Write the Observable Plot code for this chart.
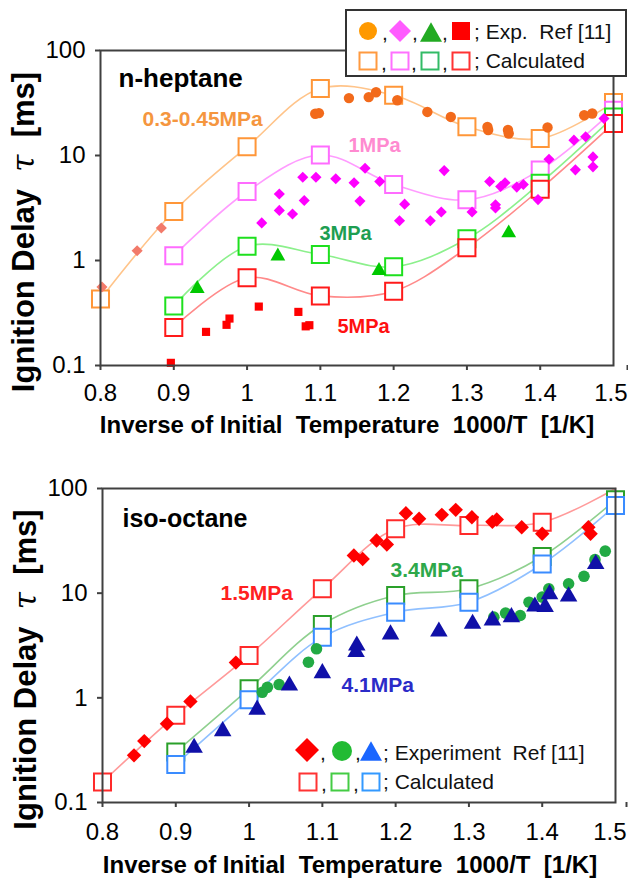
<!DOCTYPE html>
<html>
<head>
<meta charset="utf-8">
<script src="https://cdn.jsdelivr.net/npm/d3@7"></script>
<script src="https://cdn.jsdelivr.net/npm/@observablehq/plot@0.6"></script>
<style>
  body { margin: 0; background: #fff; }
  #chart { width: 628px; }
  #chart svg { display: block; }
  #chart svg text { white-space: pre; }
</style>
</head>
<body>
<div id="chart"></div>
<script>
// ---------------- DATA ----------------
const xTicks = [0.8, 0.9, 1, 1.1, 1.2, 1.3, 1.4, 1.5];
const yTicks = [0.1, 1, 10, 100];
const calcX = [0.8, 0.9, 1.0, 1.1, 1.2, 1.3, 1.4, 1.5];

// n-heptane, calculated (at calcX)
const hepCalc03 = [0.43, 2.93, 12.1, 43.4, 37.4, 18.8, 14.5, 32];
const hepCalc1  = [null, 1.11, 4.54, 10.1, 5.3, 3.79, 7.29, 27];
const hepCalc3  = [null, 0.369, 1.37, 1.14, 0.87, 1.61, 5.45, 23.3];
const hepCalc5  = [null, 0.23, 0.685, 0.46, 0.51, 1.32, 4.78, 20.2];

// n-heptane, experiment [x, tau]
const hepExp03 = [[1.093,25],[1.098,25.3],[1.139,35.2],[1.166,36],[1.176,40],[1.205,33.6],[1.246,26],
  [1.278,23.3],[1.328,18.7],[1.329,17.5],[1.356,17.5],[1.357,16.2],[1.410,18.5],[1.460,24.2],[1.471,25.1]];
const hepExpLow = [[0.802,0.56],[0.850,1.24],[0.883,2.04]];
const hepExp1 = [[1.020,2.28],[1.044,4.3],[1.044,3.0],[1.062,2.77],[1.076,6.2],[1.078,3.73],[1.094,6.2],
  [1.121,6.0],[1.146,5.5],[1.154,3.68],[1.161,7.57],[1.181,5.65],[1.208,2.39],[1.215,3.44],[1.250,2.39],
  [1.265,2.9],[1.269,7.18],[1.307,2.9],[1.331,5.65],[1.339,3.16],[1.339,3.4],[1.346,5.06],[1.352,5.5],
  [1.368,5.0],[1.377,5.3],[1.397,3.8],[1.412,9.2],[1.446,14],[1.448,7.3],[1.462,15.1],[1.472,9.7],
  [1.472,7.8],[1.487,22.5]];
const hepExp3 = [[0.932,0.54],[1.042,1.1],[1.180,0.80],[1.357,1.83]];
const hepExp5 = [[0.896,0.106],[0.944,0.209],[0.972,0.244],[0.976,0.28],[1.016,0.364],[1.070,0.324],
  [1.080,0.236],[1.085,0.242]];

// iso-octane, calculated (at calcX)
const isoCalc15 = [0.157, 0.68, 2.54, 11, 41.2, 44.3, 47.6, 100];
const isoCalc34 = [null, 0.303, 1.22, 5.02, 9.5, 11, 22.4, 78];
const isoCalc41 = [null, 0.231, 0.96, 3.8, 6.59, 8.2, 19, 68.8];

// iso-octane, experiment [x, tau]
const isoExp15 = [[0.843,0.282],[0.857,0.386],[0.888,0.565],[0.920,0.925],[0.982,2.17],[1.143,22.9],
  [1.155,21.2],[1.174,31.8],[1.188,29.2],[1.214,58],[1.232,51.4],[1.263,56],[1.282,62.5],[1.304,53.2],
  [1.332,48],[1.338,50.5],[1.372,42.6],[1.400,36.9],[1.463,42.6],[1.466,36.9]];
const isoExp34 = [[1.018,1.13],[1.025,1.26],[1.041,1.34],[1.081,2.19],[1.092,2.94],[1.334,5.9],[1.350,6.45],
  [1.370,6.12],[1.382,8.2],[1.400,9.17],[1.409,11],[1.436,12.3],[1.457,14.5],[1.472,20.9],[1.486,25.2]];
const isoExp41 = [[0.925,0.333],[0.964,0.48],[1.011,0.77],[1.055,1.31],[1.100,1.72],[1.146,2.74],
  [1.147,3.16],[1.193,4.04],[1.259,4.3],[1.305,5.1],[1.332,5.5],[1.358,5.9],[1.390,7.46],[1.404,7.4],
  [1.410,9.8],[1.436,9.3],[1.473,19]];

// text
const xTitle = "Inverse of Initial  Temperature  1000/T  [1/K]";
const yTitle = "Ignition Delay  τ  [ms]";

// ---------------- LAYOUT / STYLE ----------------
const FONT = "'Liberation Sans', Arial, Helvetica, sans-serif";
const AXIS = "#404040";

const calcRows = vals => calcX.map((x, i) => ({x, y: vals[i]})).filter(d => d.y != null);
const expRows = arr => arr.map(([x, y]) => ({x, y}));
const fmtX = d => String(+d.toFixed(1));

function label(text, dx, dy, fill, size) {
  return Plot.text([text], {frameAnchor: "top-left", dx, dy, fill, fontSize: size,
    fontWeight: "bold", textAnchor: "start", lineAnchor: "middle"});
}

function commonMarks(titleDx, titleDy, tickPad, lastDx) {
  const last = xTicks[xTicks.length - 1];
  const axOpts = {tickFormat: fmtX, tickSize: 5, tickPadding: tickPad, label: null,
    stroke: AXIS, strokeWidth: 2, fontSize: 24, fill: "#000"};
  return [
    Plot.frame({stroke: AXIS, strokeWidth: 2}),
    Plot.axisX({...axOpts, ticks: xTicks.filter(t => t !== last)}),
    Plot.axisX({...axOpts, ticks: [last], textAnchor: "end", dx: lastDx}),
    Plot.axisY({ticks: yTicks, tickFormat: d => String(d), tickSize: 5, tickPadding: 10, label: null,
      stroke: AXIS, strokeWidth: 2, fontSize: 24, fill: "#000"}),
    Plot.text([xTitle], {frameAnchor: "bottom", dx: titleDx, dy: titleDy, lineAnchor: "bottom",
      fontSize: 24, fontWeight: "bold", fill: "#000"}),
    Plot.text([yTitle], {frameAnchor: "left", dx: -76, dy: 24, rotate: -90, lineAnchor: "middle",
      textAnchor: "middle", fontSize: 31, fontWeight: "bold", fill: "#000"})
  ];
}

function calcMarks(vals, lineColor, sqColor) {
  const rows = calcRows(vals);
  return [
    Plot.line(rows, {x: "x", y: "y", stroke: lineColor, strokeWidth: 1.6, curve: "catmull-rom"}),
    Plot.dot(rows.filter(d => d.y < 99), {x: "x", y: "y", symbol: "square", r: 9.6, fill: "#fff",
      stroke: sqColor, strokeWidth: 2})
  ];
}

function expMarks(arr, symbol, color, r) {
  return Plot.dot(expRows(arr), {x: "x", y: "y", symbol, r, fill: color, stroke: "none"});
}

const styleObj = {fontFamily: FONT, fontSize: "24px", color: "#000", background: "#fff", overflow: "visible"};

// ---- top panel: n-heptane ----
const topPlot = Plot.plot({
  width: 628, height: 450,
  marginLeft: 100, marginRight: 15, marginTop: 50, marginBottom: 85,
  style: styleObj,
  x: {domain: [0.8, 1.5]},
  y: {type: "log", domain: [0.1, 100]},
  marks: [
    ...calcMarks(hepCalc03, "#ffc48a", "#ff9638"),
    ...calcMarks(hepCalc1, "#ff9cff", "#ff6cff"),
    ...calcMarks(hepCalc3, "#8cf08c", "#1ee01e"),
    ...calcMarks(hepCalc5, "#ff8a8a", "#ff1a1a"),
    expMarks(hepExpLow, "diamond2", "#f27a6a", 5),
    expMarks(hepExp03, "circle", "#f26a1b", 5.2),
    expMarks(hepExp1, "diamond2", "#ff00ff", 5),
    expMarks(hepExp3, "triangle", "#00c800", 5.5),
    expMarks(hepExp5, "square", "#ff0000", 4.6),
    ...commonMarks(-10, 67, 13, 14),
    label("n-heptane", 18, 28, "#000", 26),
    label("0.3-0.45MPa", 42, 69, "#f5963f", 21),
    label("1MPa", 248, 95, "#ff8ad0", 20),
    label("3MPa", 219, 183, "#1e9e52", 20),
    label("5MPa", 237, 276, "#ff1010", 20)
  ]
});

// ---- bottom panel: iso-octane ----
const bottomPlot = Plot.plot({
  width: 628, height: 430,
  marginLeft: 102, marginRight: 13, marginTop: 38, marginBottom: 78,
  style: styleObj,
  x: {domain: [0.8, 1.5]},
  y: {type: "log", domain: [0.1, 100]},
  marks: [
    ...calcMarks(isoCalc15, "#ff9a9a", "#ff2a2a"),
    ...calcMarks(isoCalc34, "#8fd08f", "#2aa02a"),
    ...calcMarks(isoCalc41, "#90c0ff", "#3a8cff"),
    expMarks(isoExp15, "diamond2", "#ff0000", 6.5),
    expMarks(isoExp34, "circle", "#22aa44", 5.8),
    expMarks(isoExp41, "triangle", "#1010a8", 6.5),
    ...commonMarks(-9, 70, 15, 11),
    label("iso-octane", 20, 30, "#000", 25),
    label("1.5MPa", 118, 105, "#ff2020", 21),
    label("3.4MPa", 288, 82, "#2ea84a", 21),
    label("4.1MPa", 239, 197, "#2b2bc8", 21)
  ]
});

// italic tau in the y-axis titles
[topPlot, bottomPlot].forEach(svg => {
  d3.select(svg).selectAll("text").filter(function() { return this.textContent === yTitle; })
    .each(function() {
      const parts = yTitle.split("τ");
      const t = d3.select(this).text("");
      t.append("tspan").text(parts[0]);
      t.append("tspan").attr("font-family", "'DejaVu Serif', serif").attr("font-style", "italic")
        .attr("font-weight", "normal").text("τ");
      t.append("tspan").text(parts[1]);
    });
});

// ---------------- LEGENDS (pixel layout drawn into the SVGs) ----------------
function sym(g, type, cx, cy, s, fill, stroke) {
  if (type === "circle") {
    g.append("circle").attr("cx", cx).attr("cy", cy).attr("r", s).attr("fill", fill);
  } else if (type === "diamond") {
    g.append("path").attr("d", `M${cx},${cy - s}L${cx + s},${cy}L${cx},${cy + s}L${cx - s},${cy}Z`).attr("fill", fill);
  } else if (type === "triangle") {
    const h = s * 0.88;
    g.append("path").attr("d", `M${cx},${cy - h}L${cx + s},${cy + h}L${cx - s},${cy + h}Z`).attr("fill", fill);
  } else if (type === "square") {
    g.append("rect").attr("x", cx - s).attr("y", cy - s).attr("width", 2 * s).attr("height", 2 * s)
      .attr("fill", fill).attr("stroke", stroke || "none").attr("stroke-width", stroke ? 2 : 0);
  }
}
function txt(g, x, y, t, anchor) {
  g.append("text").attr("x", x).attr("y", y).attr("font-size", 21).attr("fill", "#111")
    .attr("text-anchor", anchor || "start").style("white-space", "pre").text(t);
}

{
  const g = d3.select(topPlot).append("g").attr("font-family", FONT);
  g.append("rect").attr("x", 346).attr("y", 10).attr("width", 280).attr("height", 66)
    .attr("fill", "#fff").attr("stroke", "#333").attr("stroke-width", 2);
  sym(g, "circle", 368, 31, 9, "#ff9900");
  sym(g, "diamond", 400, 31, 11, "#ff5cff");
  sym(g, "triangle", 431, 32, 11, "#22aa22");
  sym(g, "square", 461, 31, 9, "#ff0000");
  [385, 415, 445].forEach(x => txt(g, x, 40, ",", "middle"));
  txt(g, 474, 39, "; Exp.  Ref [11]");
  sym(g, "square", 368, 61, 8.5, "#fff", "#ff9a40");
  sym(g, "square", 400, 61, 8.5, "#fff", "#ff70ff");
  sym(g, "square", 430, 61, 8.5, "#fff", "#33bb66");
  sym(g, "square", 461, 61, 8.5, "#fff", "#ff3333");
  [384, 414, 445].forEach(x => txt(g, x, 70, ",", "middle"));
  txt(g, 474, 68, "; Calculated");
}
{
  const g = d3.select(bottomPlot).append("g").attr("font-family", FONT);
  sym(g, "diamond", 307, 300, 12, "#ff0000");
  sym(g, "circle", 342, 301, 10, "#22bb33");
  sym(g, "triangle", 371, 301, 11, "#1a66ff");
  [323, 358].forEach(x => txt(g, x, 310, ",", "middle"));
  txt(g, 383, 310, "; Experiment  Ref [11]");
  sym(g, "square", 308, 332, 8.5, "#fff", "#ff3333");
  sym(g, "square", 340, 332, 8.5, "#fff", "#44cc44");
  sym(g, "square", 371, 332, 8.5, "#fff", "#3399ff");
  [324, 356].forEach(x => txt(g, x, 341, ",", "middle"));
  txt(g, 383, 339, "; Calculated");
}

const chart = document.getElementById("chart");
chart.appendChild(topPlot);
chart.appendChild(bottomPlot);
</script>
</body>
</html>
